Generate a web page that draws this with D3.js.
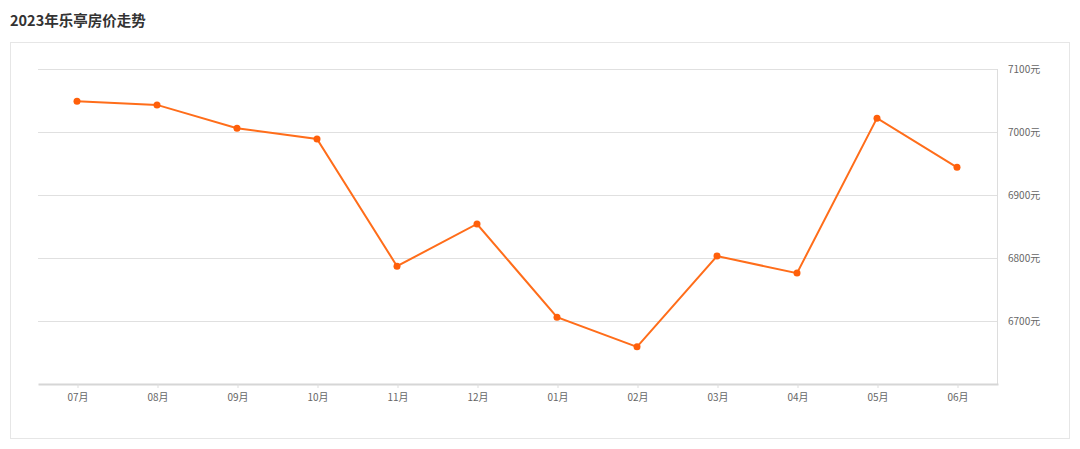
<!DOCTYPE html>
<html><head><meta charset="utf-8">
<script src="https://cdn.jsdelivr.net/npm/d3@7"></script>
<style>body{margin:0;background:#fff;font-family:"Noto Sans CJK SC","Open Sans",sans-serif;}</style>
</head><body>
<svg id="c" width="1080" height="449"></svg>
<script>
const title = "2023年乐亭房价走势";
const months = ["07月","08月","09月","10月","11月","12月","01月","02月","03月","04月","05月","06月"];
const prices = [7049,7043,7006,6989,6787,6854,6706,6659,6803,6776,7022,6944];
const yTicks = [6700,6800,6900,7000,7100];

const svg = d3.select("#c");
svg.append("text").attr("x",10).attr("y",26).text(title)
  .attr("font-size",14.5).attr("font-weight","bold").attr("fill","#333");
svg.append("rect").attr("x",10.5).attr("y",42.5).attr("width",1059).attr("height",396)
  .attr("fill","none").attr("stroke","#e6e6e6");

const L=38,R=998,T=69,B=384;
const x = d3.scaleBand().domain(months).range([L,R]);
const y = d3.scaleLinear().domain([6600,7100]).range([B,T]);

const g = svg.append("g");
g.selectAll("line.grid").data(yTicks).join("line")
  .attr("x1",L).attr("x2",R).attr("y1",d=>Math.round(y(d))+0.5).attr("y2",d=>Math.round(y(d))+0.5)
  .attr("stroke","#e0e0e0");
g.append("line").attr("x1",R-0.5).attr("x2",R-0.5).attr("y1",T).attr("y2",B).attr("stroke","#ddd");

const xa = svg.append("g").attr("transform",`translate(0,${B})`)
  .call(d3.axisBottom(x).tickSize(4).tickSizeOuter(0).tickPadding(6));
xa.select(".domain").attr("stroke","#d6d6d6").attr("stroke-width",2);
xa.selectAll(".tick line").attr("stroke","#ddd");
xa.selectAll("text").attr("fill","#666").attr("font-size",10).attr("font-family","'Noto Sans CJK SC',sans-serif");

const ya = svg.append("g").attr("transform",`translate(${R+10},0)`)
  .call(d3.axisRight(y).tickValues(yTicks).tickSize(0).tickPadding(0).tickFormat(d=>d+"元"));
ya.select(".domain").remove();
ya.selectAll("text").attr("fill","#666").attr("font-size",10).attr("font-family","'Noto Sans CJK SC',sans-serif");

const cx = d=>x(d)+x.bandwidth()/2 - 1;
const line = d3.line().x((d,i)=>cx(months[i])).y(d=>y(d));
svg.append("path").datum(prices).attr("d",line).attr("fill","none")
  .attr("stroke","#ff6d1a").attr("stroke-width",2);
svg.selectAll("circle.pt").data(prices).join("circle")
  .attr("cx",(d,i)=>cx(months[i])).attr("cy",d=>y(d)).attr("r",3.5).attr("fill","#ff5f0a");
</script>
</body></html>
